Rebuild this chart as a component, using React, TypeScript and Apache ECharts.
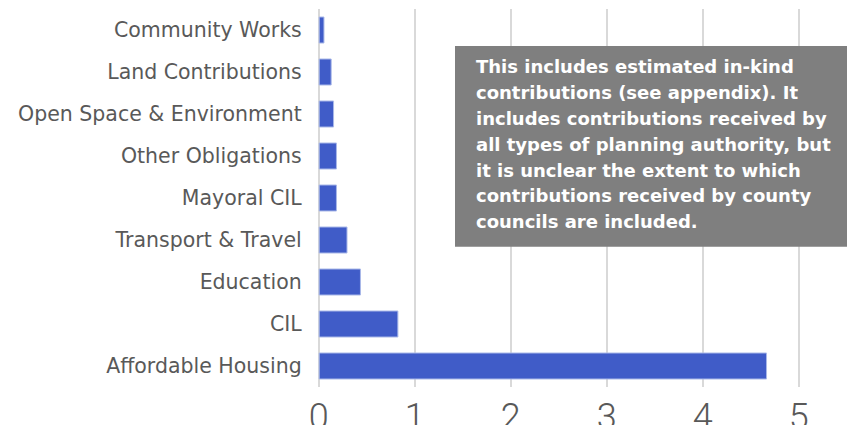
import React, { useEffect, useRef } from "react";
import * as echarts from "echarts";

const categories = [
  "Affordable Housing",
  "CIL",
  "Education",
  "Transport & Travel",
  "Mayoral CIL",
  "Other Obligations",
  "Open Space & Environment",
  "Land Contributions",
  "Community Works",
];
const values = [4.67, 0.83, 0.44, 0.3, 0.19, 0.19, 0.16, 0.135, 0.06];
const xTicks = [0, 1, 2, 3, 4, 5];
const noteLines = [
  "This includes estimated in-kind",
  "contributions (see appendix). It",
  "includes contributions received by",
  "all types of planning authority, but",
  "it is unclear the extent to which",
  "contributions received by county",
  "councils are included.",
];

export default function App() {
  const ref = useRef<HTMLDivElement>(null);
  useEffect(() => {
    if (!ref.current) return;
    const chart = echarts.init(ref.current, null, { renderer: "svg" });
    chart.setOption({
      animation: false,
      grid: {
        left: 318.7,
        right: 48.3,
        top: 9,
        bottom: 38,
        containLabel: false,
        outerBoundsMode: "none",
      },
      xAxis: {
        type: "value",
        min: xTicks[0],
        max: xTicks[xTicks.length - 1],
        interval: 1,
        axisLine: { show: false },
        axisTick: { show: false },
        splitLine: { show: true, lineStyle: { color: "#d9d9d9", width: 2 } },
        axisLabel: {
          color: "#595959",
          fontSize: 36,
          fontFamily: "Roboto",
          fontWeight: 300,
          margin: 12,
        },
      },
      yAxis: {
        type: "category",
        data: categories,
        axisLine: { show: false },
        axisTick: { show: false },
        axisLabel: {
          color: "#595959",
          fontSize: 20.5,
          fontFamily: "DejaVu Sans",
          margin: 17,
        },
      },
      series: [
        {
          type: "bar",
          data: values,
          barWidth: 27,
          itemStyle: { color: "#405cc8", borderColor: "#a9b8e8", borderWidth: 1 },
        },
      ],
      graphic: [
        {
          type: "rect",
          shape: { x: 455, y: 46, width: 392, height: 200.7 },
          style: { fill: "#7f7f7f" },
          z: 100,
        },
        {
          type: "text",
          x: 476,
          y: 54,
          z: 101,
          style: {
            text: noteLines.join("\n"),
            fill: "#ffffff",
            fontSize: 18,
            fontWeight: "bold",
            fontFamily: "DejaVu Sans",
            lineHeight: 25.8,
            verticalAlign: "top",
            align: "left",
          },
        },
      ],
    });
    return () => chart.dispose();
  }, []);
  return <div ref={ref} style={{ width: 847, height: 425, position: "absolute", left: 0, top: 0 }} />;
}
